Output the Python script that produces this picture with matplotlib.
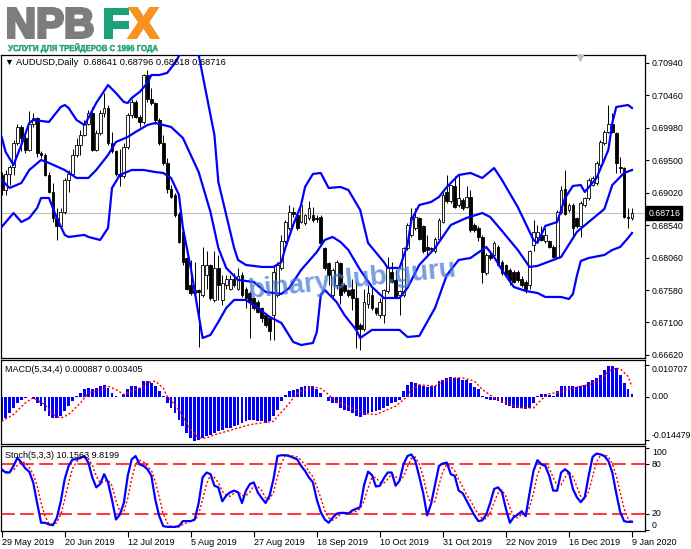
import numpy as np
import matplotlib.pyplot as plt
from matplotlib.textpath import TextPath
from matplotlib.patches import PathPatch
from matplotlib.font_manager import FontProperties
from matplotlib.transforms import Affine2D, blended_transform_factory

plt.rcParams['font.family'] = ['Liberation Sans', 'DejaVu Sans']

# ---------------- data ----------------
dates = ['29 May 2019', '20 Jun 2019', '12 Jul 2019', '5 Aug 2019', '27 Aug 2019',
         '18 Sep 2019', '10 Oct 2019', '31 Oct 2019', '22 Nov 2019', '16 Dec 2019',
         '9 Jan 2020']
date_bars = [0, 16, 32, 48, 64, 80, 96, 112, 128, 144, 160]

opens = [0.6928, 0.6906, 0.6930, 0.6940, 0.6975, 0.6999, 0.6982, 0.6965, 0.7004, 0.7012,
         0.6960, 0.6958, 0.6928, 0.6903, 0.6864, 0.6852, 0.6874, 0.6921, 0.6930, 0.6958,
         0.6972, 0.6987, 0.7004, 0.7019, 0.6965, 0.6990, 0.7019, 0.7027, 0.6975, 0.6963,
         0.6930, 0.6926, 0.6970, 0.7017, 0.7036, 0.7014, 0.7007, 0.7076, 0.7041, 0.7034,
         0.7009, 0.6975, 0.6945, 0.6908, 0.6898, 0.6871, 0.6844, 0.6805, 0.6765, 0.6753,
         0.6758, 0.6751, 0.6780, 0.6795, 0.6743, 0.6790, 0.6743, 0.6765, 0.6760, 0.6775,
         0.6760, 0.6780, 0.6760, 0.6753, 0.6746, 0.6741, 0.6731, 0.6721, 0.6716, 0.6721,
         0.6751, 0.6790, 0.6830, 0.6849, 0.6874, 0.6869, 0.6859, 0.6857, 0.6864, 0.6869,
         0.6864, 0.6866, 0.6820, 0.6798, 0.6751, 0.6765, 0.6798, 0.6765, 0.6758, 0.6760,
         0.6746, 0.6706, 0.6701, 0.6738, 0.6751, 0.6731, 0.6721, 0.6721, 0.6756, 0.6785,
         0.6773, 0.6751, 0.6751, 0.6820, 0.6839, 0.6849, 0.6864, 0.6852, 0.6822, 0.6820,
         0.6815, 0.6834, 0.6859, 0.6903, 0.6889, 0.6911, 0.6884, 0.6891, 0.6881, 0.6896,
         0.6854, 0.6849, 0.6837, 0.6783, 0.6810, 0.6810, 0.6822, 0.6800, 0.6795, 0.6788,
         0.6785, 0.6785, 0.6775, 0.6770, 0.6765, 0.6825, 0.6837, 0.6839, 0.6830, 0.6830,
         0.6822, 0.6807, 0.6874, 0.6908, 0.6876, 0.6884, 0.6864, 0.6852, 0.6884, 0.6894,
         0.6913, 0.6916, 0.6943, 0.6975, 0.6992, 0.7004, 0.6990, 0.6940, 0.6938, 0.6866,
         0.68641]
highs = [0.6933, 0.6935, 0.6943, 0.6980, 0.7004, 0.7002, 0.6987, 0.7022, 0.7019, 0.7014,
         0.6963, 0.6960, 0.6933, 0.6916, 0.6879, 0.6879, 0.6923, 0.6935, 0.6967, 0.6982,
         0.6995, 0.7009, 0.7024, 0.7029, 0.6995, 0.7024, 0.7049, 0.7032, 0.6992, 0.6965,
         0.6967, 0.6975, 0.7019, 0.7041, 0.7039, 0.7017, 0.7078, 0.7083, 0.7056, 0.7036,
         0.7012, 0.6987, 0.6953, 0.6913, 0.6901, 0.6874, 0.6847, 0.6807, 0.6802, 0.6800,
         0.6760, 0.6821, 0.6815, 0.6797, 0.6815, 0.6810, 0.6780, 0.6780, 0.6780, 0.6783,
         0.6790, 0.6785, 0.6763, 0.6756, 0.6748, 0.6743, 0.6733, 0.6724, 0.6719, 0.6793,
         0.6800, 0.6839, 0.6862, 0.6884, 0.6881, 0.6874, 0.6886, 0.6871, 0.6889, 0.6881,
         0.6869, 0.6869, 0.6822, 0.6800, 0.6790, 0.6802, 0.6800, 0.6768, 0.6760, 0.6775,
         0.6770, 0.6709, 0.6760, 0.6765, 0.6763, 0.6733, 0.6746, 0.6760, 0.6807, 0.6800,
         0.6788, 0.6758, 0.6822, 0.6857, 0.6879, 0.6879, 0.6866, 0.6854, 0.6839, 0.6822,
         0.6837, 0.6864, 0.6903, 0.6928, 0.6913, 0.6926, 0.6928, 0.6894, 0.6911, 0.6906,
         0.6857, 0.6852, 0.6839, 0.6812, 0.6812, 0.6830, 0.6825, 0.6802, 0.6797, 0.6790,
         0.6788, 0.6788, 0.6778, 0.6773, 0.6817, 0.6862, 0.6854, 0.6852, 0.6849, 0.6832,
         0.6825, 0.6876, 0.6911, 0.6935, 0.6886, 0.6886, 0.6866, 0.6889, 0.6896, 0.6923,
         0.6926, 0.6948, 0.6980, 0.6995, 0.7032, 0.7019, 0.6992, 0.6955, 0.6940, 0.6879,
         0.68796]
lows = [0.6898, 0.6898, 0.6913, 0.6928, 0.6972, 0.6963, 0.6960, 0.6963, 0.6999, 0.6955,
        0.6953, 0.6926, 0.6901, 0.6859, 0.6832, 0.6849, 0.6871, 0.6903, 0.6928, 0.6955,
        0.6958, 0.6985, 0.7002, 0.6963, 0.6963, 0.6987, 0.7014, 0.6972, 0.6960, 0.6926,
        0.6911, 0.6923, 0.6967, 0.7012, 0.7012, 0.6999, 0.7004, 0.7036, 0.7032, 0.7004,
        0.6972, 0.6943, 0.6901, 0.6894, 0.6866, 0.6827, 0.6795, 0.6758, 0.6751, 0.6748,
        0.6674, 0.6748, 0.6760, 0.6743, 0.6741, 0.6743, 0.6736, 0.6760, 0.6758, 0.6763,
        0.6758, 0.6748, 0.6731, 0.6687, 0.6729, 0.6724, 0.6711, 0.6704, 0.6684, 0.6684,
        0.6748, 0.6788, 0.6827, 0.6847, 0.6866, 0.6847, 0.6857, 0.6854, 0.6862, 0.6859,
        0.6859, 0.6825, 0.6788, 0.6765, 0.6748, 0.6760, 0.6738, 0.6753, 0.6748, 0.6729,
        0.6672, 0.6669, 0.6697, 0.6731, 0.6729, 0.6721, 0.6716, 0.6709, 0.6753, 0.6768,
        0.6746, 0.6721, 0.6748, 0.6817, 0.6837, 0.6847, 0.6832, 0.6812, 0.6810, 0.6815,
        0.6812, 0.6832, 0.6857, 0.6886, 0.6886, 0.6879, 0.6881, 0.6876, 0.6879, 0.6844,
        0.6844, 0.6830, 0.6768, 0.6780, 0.6802, 0.6807, 0.6793, 0.6780, 0.6778, 0.6765,
        0.6768, 0.6770, 0.6763, 0.6753, 0.6760, 0.6815, 0.6830, 0.6830, 0.6827, 0.6820,
        0.6805, 0.6805, 0.6871, 0.6869, 0.6874, 0.6837, 0.6849, 0.6837, 0.6881, 0.6891,
        0.6911, 0.6913, 0.6940, 0.6972, 0.6990, 0.6990, 0.6931, 0.6931, 0.6864, 0.6849,
        0.68618]
closes = [0.6906, 0.6930, 0.6940, 0.6975, 0.6999, 0.6982, 0.6965, 0.7004, 0.7012, 0.6960,
          0.6958, 0.6928, 0.6903, 0.6864, 0.6852, 0.6874, 0.6921, 0.6930, 0.6958, 0.6972,
          0.6987, 0.7004, 0.7019, 0.6965, 0.6990, 0.7019, 0.7027, 0.6975, 0.6963, 0.6930,
          0.6926, 0.6970, 0.7017, 0.7036, 0.7014, 0.7007, 0.7076, 0.7041, 0.7034, 0.7009,
          0.6975, 0.6945, 0.6908, 0.6896, 0.6869, 0.6829, 0.6800, 0.6760, 0.6753, 0.6758,
          0.6755, 0.6795, 0.6795, 0.6746, 0.6790, 0.6765, 0.6768, 0.6775, 0.6775, 0.6765,
          0.6778, 0.6751, 0.6746, 0.6741, 0.6731, 0.6726, 0.6716, 0.6706, 0.6697, 0.6785,
          0.6795, 0.6830, 0.6859, 0.6874, 0.6871, 0.6849, 0.6884, 0.6869, 0.6879, 0.6862,
          0.6863, 0.6827, 0.6790, 0.6780, 0.6788, 0.6800, 0.6751, 0.6756, 0.6751, 0.6746,
          0.6701, 0.6701, 0.6741, 0.6753, 0.6731, 0.6724, 0.6741, 0.6758, 0.6790, 0.6770,
          0.6748, 0.6756, 0.6820, 0.6854, 0.6866, 0.6866, 0.6834, 0.6815, 0.6817, 0.6819,
          0.6834, 0.6862, 0.6898, 0.6889, 0.6913, 0.6881, 0.6894, 0.6879, 0.6896, 0.6847,
          0.6847, 0.6837, 0.6785, 0.6810, 0.6805, 0.6827, 0.6795, 0.6783, 0.6780, 0.6773,
          0.6770, 0.6773, 0.6765, 0.6760, 0.6815, 0.6844, 0.6844, 0.6832, 0.6839, 0.6822,
          0.6807, 0.6874, 0.6906, 0.6871, 0.6884, 0.6849, 0.6852, 0.6886, 0.6894, 0.6921,
          0.6923, 0.6945, 0.6977, 0.6992, 0.7004, 0.6992, 0.6945, 0.6938, 0.6866, 0.6864,
          0.68716]

# Bollinger bands, read at the bars where they could be traced
upper_x = [0, 1, 3, 5, 7, 8, 12, 15, 16, 17, 19, 21, 22, 24, 27, 29, 31, 32, 33, 35,
           37, 38, 40, 42, 44, 45, 48, 50, 52, 54, 55, 57, 59, 60, 62, 66, 69, 71, 72, 74,
           76, 77, 79, 81, 83, 86, 88, 91, 93, 97, 98, 101, 103, 104, 106, 109, 111, 113, 116, 119,
           122, 125, 127, 131, 135, 136, 138, 141, 143, 145, 147, 148, 151, 154, 155, 156, 159, 160]
upper_y = [0.69842, 0.69620, 0.69428, 0.69724, 0.70049, 0.70093, 0.70064, 0.70285, 0.70315, 0.70270,
           0.70093, 0.70019, 0.70123, 0.70344, 0.70610, 0.70492, 0.70359, 0.70344, 0.70418, 0.70507,
           0.70640, 0.70758, 0.70758, 0.70788, 0.70936, 0.71039, 0.71276, 0.71054, 0.70463, 0.69871,
           0.69177, 0.68689, 0.68201, 0.68024, 0.67950, 0.67921, 0.67921, 0.67994, 0.68201, 0.68541,
           0.68836, 0.69103, 0.69295, 0.69310, 0.69088, 0.69103, 0.69059, 0.68763, 0.68275, 0.67994,
           0.67906, 0.67906, 0.68246, 0.68615, 0.68836, 0.68881, 0.68955, 0.69103, 0.69280, 0.69310,
           0.69236, 0.69383, 0.69206, 0.68807, 0.68320, 0.68275, 0.68527, 0.68585, 0.68940, 0.69118,
           0.69132, 0.69029, 0.69236, 0.69650, 0.70049, 0.70285, 0.70315, 0.70270]
mid_x = [0, 2, 5, 7, 10, 12, 16, 19, 22, 24, 27, 29, 32, 34, 37, 39, 41, 43, 46, 50,
         53, 55, 57, 60, 64, 67, 71, 73, 76, 80, 82, 84, 86, 88, 91, 94, 97, 101, 103, 106,
         110, 114, 118, 122, 124, 127, 131, 134, 136, 138, 142, 146, 149, 153, 155, 158, 160]
mid_y = [0.69206, 0.69088, 0.69162, 0.69354, 0.69502, 0.69458, 0.69354, 0.69236, 0.69236, 0.69354,
         0.69576, 0.69768, 0.69842, 0.69916, 0.70019, 0.70049, 0.70019, 0.69990, 0.69827, 0.69324,
         0.68733, 0.68201, 0.67906, 0.67728, 0.67699, 0.67551, 0.67522, 0.67610, 0.67876, 0.68142,
         0.68320, 0.68364, 0.68290, 0.68172, 0.67876, 0.67625, 0.67462, 0.67462, 0.67610, 0.67950,
         0.68201, 0.68541, 0.68645, 0.68718, 0.68659, 0.68453, 0.68172, 0.67921, 0.67936, 0.67980,
         0.68068, 0.68438, 0.68585, 0.68778, 0.69132, 0.69310, 0.69354]
low_x = [0, 3, 5, 7, 9, 10, 12, 14, 16, 17, 21, 22, 25, 27, 28, 30, 33, 36, 39, 41,
         43, 45, 46, 48, 50, 51, 53, 55, 57, 59, 62, 65, 68, 71, 74, 76, 79, 80, 81, 82,
         85, 87, 90, 91, 94, 101, 103, 106, 110, 113, 116, 119, 123, 125, 127, 130, 133, 136, 138, 142,
         144, 145, 146, 147, 149, 153, 155, 157, 159, 160]
low_y = [0.68512, 0.68718, 0.68585, 0.68645, 0.68792, 0.68940, 0.68940, 0.68645, 0.68394, 0.68364,
         0.68394, 0.68364, 0.68320, 0.68497, 0.69088, 0.69280, 0.69354, 0.69354, 0.69324, 0.69310,
         0.69236, 0.68985, 0.68497, 0.67906, 0.67211, 0.66871, 0.66916, 0.67108, 0.67315, 0.67433,
         0.67433, 0.67315, 0.67182, 0.67093, 0.66812, 0.66767, 0.66797, 0.66960, 0.67507, 0.67581,
         0.67403, 0.67211, 0.66990, 0.66871, 0.66990, 0.66990, 0.66886, 0.66901, 0.67315, 0.67802,
         0.68024, 0.68053, 0.68216, 0.68068, 0.67876, 0.67625, 0.67566, 0.67536, 0.67477, 0.67477,
         0.67447, 0.67521, 0.67787, 0.68009, 0.68053, 0.68098, 0.68172, 0.68216, 0.68349, 0.68423]

# MACD(5,34,4) histogram and signal, in units of 1e-4
macd_hist = [-76, -71, -54, -37, -20, -9, -3, 1, -7, -20,
             -31, -48, -65, -71, -71, -65, -48, -31, -15, 2,
             13, 25, 30, 25, 30, 36, 41, 30, 13, 2,
             1, 11, 25, 36, 36, 30, 53, 53, 47, 36,
             19, 2, -20, -37, -54, -76, -99, -121, -138, -149,
             -143, -138, -132, -127, -121, -115, -112, -104, -104, -99,
             -93, -87, -82, -78, -78, -82, -82, -87, -82, -65,
             -43, -15, 8, 19, 22, 25, 34, 38, 38, 36,
             25, 13, 1, -15, -20, -20, -37, -43, -48, -54,
             -65, -67, -59, -54, -52, -48, -43, -37, -29, -20,
             -18, -9, 20, 41, 49, 47, 41, 36, 34, 36,
             38, 53, 58, 64, 67, 64, 64, 58, 58, 47,
             34, 25, 4, -7, -11, -9, -15, -20, -26, -31,
             -37, -37, -37, -40, -37, -20, 4, 11, 11, 8,
             4, 19, 38, 38, 38, 36, 34, 36, 41, 49,
             56, 64, 75, 92, 103, 105, 97, 75, 47, 25,
             8.87]
sig_x = [0, 3, 6, 8, 11, 13, 15, 17, 20, 22, 25, 27, 29, 31, 33, 35, 37, 39, 41, 42,
         44, 46, 48, 50, 52, 54, 58, 63, 67, 69, 70, 72, 75, 76, 79, 81, 82, 84, 86, 90,
         92, 95, 97, 100, 101, 103, 104, 106, 110, 112, 115, 117, 120, 122, 125, 127, 130, 132, 135, 137,
         139, 142, 144, 147, 149, 152, 154, 156, 157, 159, 160]
sig_y = [-82, -59, -20, -3, -26, -59, -71, -59, -20, 13, 25, 36, 25, 8, 19, 30, 47, 53, 30, 2,
         -26, -65, -110, -138, -138, -127, -112, -93, -85, -82, -65, -37, 12, 20, 35, 28, 19, -5, -20, -43,
         -56, -59, -48, -31, -20, 2, 25, 41, 36, 53, 64, 64, 53, 25, -3, -15, -29, -37, -37, -9,
         11, 16, 27, 36, 41, 58, 86, 97, 94, 69, 34.05]

# Stochastic(5,3,3)
stoch_k = [74, 70, 70, 78, 88, 82, 75, 71, 58, 33,
           9, 9, 7, 6, 15, 35, 62, 78, 86, 86,
           88, 90, 82, 64, 52, 56, 68, 58, 37, 13,
           19, 33, 66, 86, 90, 80, 78, 74, 66, 37,
           17, 5, 4, 4, 4, 5, 11, 11, 11, 13,
           33, 64, 70, 68, 54, 52, 35, 42, 46, 48,
           46, 33, 48, 56, 58, 46, 39, 33, 42, 62,
           90, 91, 91, 90, 88, 86, 78, 72, 64, 58,
           37, 22, 13, 9, 15, 20, 21, 21, 20, 24,
           26, 28, 55, 71, 67, 53, 54, 63, 70, 70,
           54, 60, 80, 90, 92, 84, 65, 45, 18, 32,
           55, 78, 81, 82, 68, 66, 48, 45, 36, 27,
           18, 11, 12, 19, 33, 50, 52, 46, 26, 9,
           16, 19, 23, 17, 45, 72, 85, 80, 78, 66,
           48, 48, 70, 74, 70, 50, 40, 34, 40, 66,
           89, 93, 92, 90, 84, 70, 45, 22, 11, 10,
           10.1563]
stoch_d = [72, 71, 71, 73, 79, 83, 82, 76, 68, 54,
           33, 17, 8, 7, 9, 19, 37, 58, 75, 83,
           87, 88, 87, 79, 66, 57, 59, 61, 54, 36,
           23, 22, 39, 62, 81, 85, 83, 77, 73, 59,
           40, 20, 9, 4, 4, 4, 7, 9, 11, 12,
           19, 37, 56, 67, 64, 58, 47, 43, 41, 45,
           47, 42, 42, 46, 54, 53, 48, 39, 38, 46,
           65, 81, 91, 91, 90, 89, 85, 79, 71, 65,
           53, 39, 24, 15, 12, 15, 19, 21, 21, 22,
           23, 26, 36, 51, 64, 64, 58, 57, 62, 68,
           65, 61, 65, 77, 87, 89, 80, 65, 43, 32,
           35, 55, 71, 80, 77, 72, 61, 53, 43, 36,
           27, 19, 14, 14, 21, 34, 45, 49, 41, 27,
           17, 15, 19, 20, 28, 45, 67, 79, 81, 75,
           64, 54, 55, 64, 71, 65, 53, 41, 38, 47,
           65, 83, 91, 92, 89, 81, 66, 46, 26, 14,
           9.8199]

price_ticks = [0.70940, 0.70460, 0.69980, 0.69500, 0.69020, 0.68540,
               0.68060, 0.67580, 0.67100, 0.66620]
macd_ticks = [107.07, 0.0, -144.79]
macd_tick_labels = ['0.010707', '0.00', '-0.014479']
stoch_ticks = [100, 80, 20, 0]

# ---------------- figure ----------------
W, H = 691, 549
fig = plt.figure(figsize=(W / 100, H / 100), dpi=100)


def panel(left, top, right, bottom):
    # panel box given in pixels from the top-left corner
    return fig.add_axes([left / W, 1 - bottom / H, (right - left) / W, (bottom - top) / H])


ax = panel(0.5, 54.5, 645, 358)
am = panel(0.5, 360, 645, 444)
ast = panel(0.5, 446, 645, 531)

x = np.arange(len(closes))
o, h, l, c = (np.array(v) for v in (opens, highs, lows, closes))
up = c >= o

blue = '#0000ff'

# main price chart
ax.axhline(closes[-1], color='#c0c0c0', lw=0.8, zorder=1)
ax.vlines(x, l, h, color='black', lw=0.7, zorder=2)
ax.bar(x[up], (c - o)[up], bottom=o[up], width=0.7, facecolor='white',
       edgecolor='black', linewidth=0.6, zorder=3)
ax.bar(x[~up], (o - c)[~up], bottom=c[~up], width=0.7, facecolor='black',
       edgecolor='black', linewidth=0.6, zorder=3)
for bx, by in ((upper_x, upper_y), (mid_x, mid_y), (low_x, low_y)):
    ax.plot(bx, by, color=blue, lw=1.6, zorder=4, solid_joinstyle='round')
ax.set_ylim(0.66575, 0.71061)
ax.set_yticks(price_ticks)
ax.set_yticklabels([f'{p:.5f}' for p in price_ticks])

tr = blended_transform_factory(ax.transAxes, ax.transData)
ax.text(1.005, closes[-1], f'{closes[-1]:.5f}', transform=tr, ha='left', va='center',
        fontsize=6.3, color='white', clip_on=False, zorder=10,
        bbox=dict(boxstyle='square,pad=0.25', fc='black', ec='black'))
ax.plot([146.8], [0.99], marker='v', ms=6, color='#bdbdbd', mec='none', clip_on=False,
        transform=blended_transform_factory(ax.transData, ax.transAxes), zorder=6)

# MACD
am.bar(x, macd_hist, width=0.72, color=blue, zorder=2)
am.plot(sig_x, sig_y, color='red', lw=1.0, ls=(0, (1.5, 1.5)), zorder=3)
am.set_ylim(-158, 124)
am.set_yticks(macd_ticks)
am.set_yticklabels(macd_tick_labels)

# Stochastic
for lev in (80, 20):
    ast.axhline(lev, color='red', lw=1.1, ls=(0, (9, 3.5)), zorder=1)
ast.plot(x, stoch_k, color=blue, lw=1.6, zorder=3)
ast.plot(x, stoch_d, color='red', lw=1.0, ls=(0, (1.5, 1.5)), zorder=2)
ast.set_ylim(-1, 102.2)
ast.set_yticks(stoch_ticks)
ast.set_yticklabels([str(v) for v in stoch_ticks])

for a in (ax, am, ast):
    a.set_xlim(-0.3, 163.3)
    a.yaxis.tick_right()
    a.tick_params(axis='y', labelsize=6.3, length=3, width=0.8, pad=2)
    a.set_xticks([])
    for s in a.spines.values():
        s.set_linewidth(0.9)

ast.set_xticks(date_bars)
ast.set_xticklabels(dates, ha='left', fontsize=6.5)
ast.tick_params(axis='x', length=4, width=0.8, pad=1)

for lab, va in zip(am.get_yticklabels(), ['top', 'center', 'bottom']):
    lab.set_va(va)
for lab, va in zip(ast.get_yticklabels(), ['top', 'center', 'center', 'bottom']):
    lab.set_va(va)

# panel captions
fig.text(4.5 / W, 1 - 62.5 / H, '▼', fontsize=6.5, va='center')
fig.text(16 / W, 1 - 62.5 / H, 'AUDUSD,Daily  0.68641 0.68796 0.68618 0.68716',
         fontsize=6.7, va='center')
fig.text(5 / W, 1 - 370 / H, 'MACD(5,34,4) 0.000887 0.003405', fontsize=6.5, va='center')
fig.text(5 / W, 1 - 455 / H, 'Stoch(5,3,3) 10.1563 9.8199', fontsize=6.5, va='center')

# watermark
fig.text(352 / W, 1 - 280 / H, 'binaryclub.guru', fontsize=20, fontweight='bold',
         color='#3f74d6', alpha=0.7, rotation=6, ha='center', va='center', zorder=20)


# logo, fitted into pixel boxes (stroke thickens the heavy letters)
def boxed_text(s, x0, x1, y0, y1, color, stroke=0.0):
    tp = TextPath((0, 0), s, size=50,
                  prop=FontProperties(family='Liberation Sans', weight='bold'))
    bb = tp.get_extents()
    m = stroke * 100 / 72 / 2
    t = (Affine2D().translate(-bb.x0, -bb.y0)
         .scale((x1 - x0 - 2 * m) / bb.width, (y1 - y0 - 2 * m) / bb.height)
         .translate(x0 + m, H - y1 + m))
    fig.add_artist(PathPatch(tp, transform=t, fc=color, ec=color if stroke else 'none',
                             lw=stroke, joinstyle='miter'))


boxed_text('NPB', 7, 94, 7, 39, '#7d7d7d', stroke=2.2)
boxed_text('F', 103, 129, 7, 39, '#1ba27a', stroke=2.2)
boxed_text('X', 128, 159, 7, 39, '#f7931e', stroke=2.2)
boxed_text('УСЛУГИ ДЛЯ ТРЕЙДЕРОВ С 1996 ГОДА', 8, 158, 43, 53, '#1f9d6e', stroke=0.3)

fig.savefig('out.png', dpi=100)
